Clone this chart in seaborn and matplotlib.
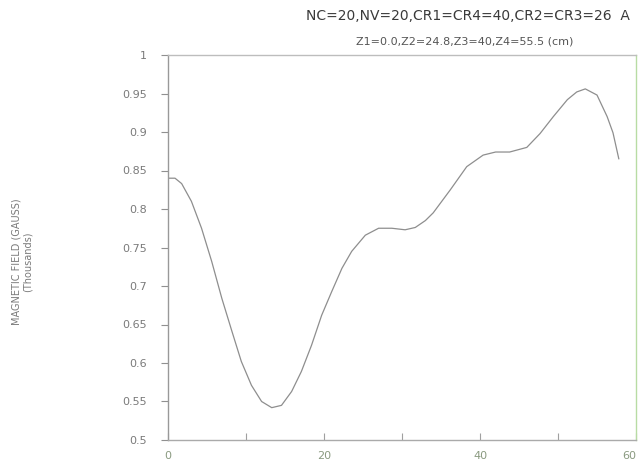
import matplotlib
matplotlib.use("Agg")
import matplotlib.pyplot as plt
import seaborn as sns
import pandas as pd

# Data
position_cm = [0.0, 0.9, 1.75, 3.0, 4.3, 5.6, 6.9, 8.2, 9.4, 10.7, 12.0, 13.3,
               14.55, 15.85, 17.1, 18.4, 19.7, 21.0, 22.3, 23.55, 25.3, 27.0,
               28.7, 30.4, 31.7, 33.0, 34.0, 36.2, 38.3, 40.4, 42.0, 43.8,
               46.0, 47.7, 49.4, 51.2, 52.4, 53.5, 55.0, 56.3, 57.05, 57.8]
field_kgauss = [0.840, 0.840, 0.833, 0.810, 0.775, 0.732, 0.684, 0.641, 0.602,
                0.571, 0.550, 0.542, 0.545, 0.563, 0.589, 0.623, 0.662, 0.693,
                0.723, 0.745, 0.766, 0.775, 0.775, 0.773, 0.776, 0.785, 0.795,
                0.825, 0.855, 0.870, 0.874, 0.874, 0.880, 0.898, 0.920, 0.942,
                0.952, 0.956, 0.948, 0.920, 0.899, 0.865]

x_ticks = [0, 10, 20, 30, 40, 50, 60]
x_tick_labels = ["0", "", "20", "", "40", "", "60"]
y_ticks = [0.5, 0.55, 0.6, 0.65, 0.7, 0.75, 0.8, 0.85, 0.9, 0.95, 1.0]
y_tick_labels = ["0.5", "0.55", "0.6", "0.65", "0.7", "0.75", "0.8", "0.85",
                 "0.9", "0.95", "1"]

title = "NC=20,NV=20,CR1=CR4=40,CR2=CR3=26  A"
subtitle = "Z1=0.0,Z2=24.8,Z3=40,Z4=55.5 (cm)"
ylabel = "MAGNETIC FIELD (GAUSS)\n(Thousands)"

df = pd.DataFrame({"x": position_cm, "y": field_kgauss})

sns.set_theme(style="white")
plt.rcParams["font.family"] = ["DejaVu Sans"]

fig = plt.figure(figsize=(6.4, 4.68), dpi=100)
ax = fig.add_axes([168 / 640, 28 / 468, 468 / 640, 385 / 468])

sns.lineplot(data=df, x="x", y="y", ax=ax, color="#8e8e8e", linewidth=0.9,
             sort=False)

ax.set_xlim(0, 60)
ax.set_ylim(0.5, 1.0)
ax.set_xticks(x_ticks)
ax.set_xticklabels(x_tick_labels)
ax.set_yticks(y_ticks)
ax.set_yticklabels(y_tick_labels)
ax.set_xlabel("")
ax.set_ylabel("")

ax.tick_params(axis="x", direction="in", length=5, width=0.8, color="#a0a0a0",
               labelsize=8, labelcolor="#8a9a80", pad=8, bottom=True)
ax.tick_params(axis="y", direction="out", length=5, width=0.8, color="#909090",
               labelsize=8, labelcolor="#7a7a7a", pad=10, left=True)

# keep the last x label inside the picture
ax.get_xticklabels()[-1].set_horizontalalignment("right")

for side, col in [("left", "#999999"), ("bottom", "#aaaaaa"),
                  ("top", "#bdbdbd"), ("right", "#b8dca4")]:
    ax.spines[side].set_visible(True)
    ax.spines[side].set_color(col)
    ax.spines[side].set_linewidth(1.0)

fig.text(468 / 640, 1 - 16 / 468, title, ha="center", va="center",
         fontsize=10, color="#3a3a3a")
fig.text(465 / 640, 1 - 42 / 468, subtitle, ha="center", va="center",
         fontsize=8, color="#555555")
fig.text(22 / 640, 1 - 262 / 468, ylabel, ha="center", va="center",
         rotation=90, fontsize=7, color="#7a7a7a", linespacing=1.1)

fig.savefig("out.png", dpi=100)
